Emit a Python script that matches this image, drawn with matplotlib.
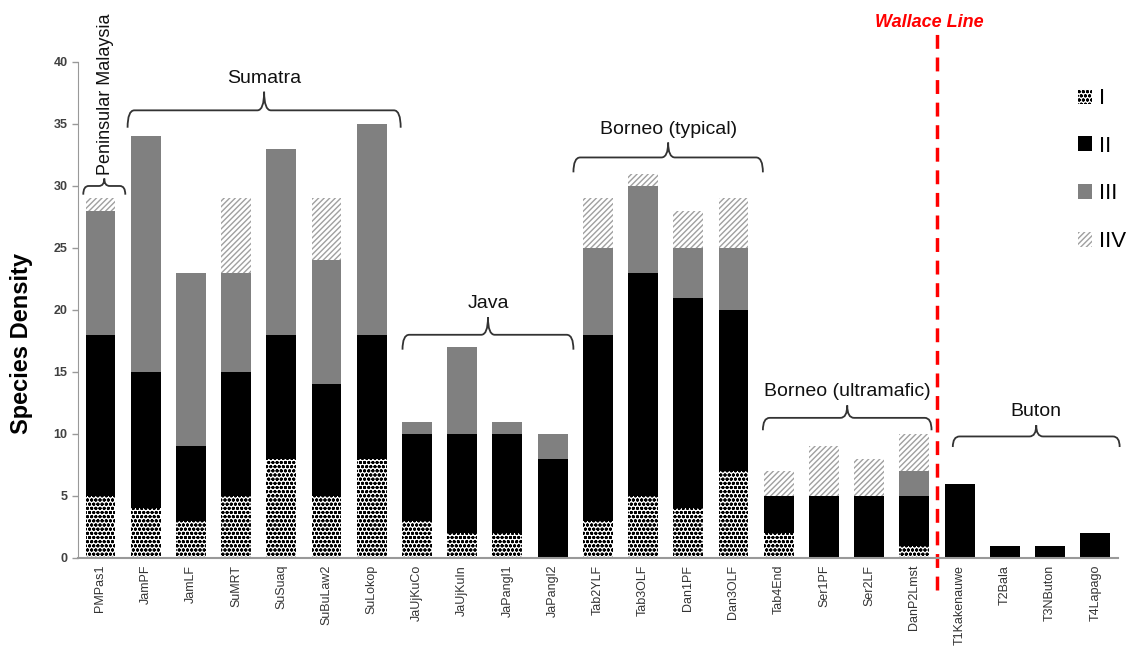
import matplotlib
matplotlib.use("Agg")
import matplotlib.pyplot as plt
from matplotlib.path import Path
from matplotlib.patches import PathPatch, Patch
import numpy as np

plt.rcParams['font.family'] = ['Liberation Sans', 'DejaVu Sans']
plt.rcParams['hatch.linewidth'] = 1.0

sites = ["PMPas1", "JamPF", "JamLF", "SuMRT", "SuSuaq", "SuBuLaw2", "SuLokop",
         "JaUjKuCo", "JaUjKuIn", "JaPangl1", "JaPangl2",
         "Tab2YLF", "Tab3OLF", "Dan1PF", "Dan3OLF",
         "Tab4End", "Ser1PF", "Ser2LF", "DanP2Lmst",
         "T1Kakenauwe", "T2Bala", "T3NButon", "T4Lapago"]
cls_I   = [5, 4, 3, 5, 8, 5, 8, 3, 2, 2, 0, 3, 5, 4, 7, 2, 0, 0, 1, 0, 0, 0, 0]
cls_II  = [13, 11, 6, 10, 10, 9, 10, 7, 8, 8, 8, 15, 18, 17, 13, 3, 5, 5, 4, 6, 1, 1, 2]
cls_III = [10, 19, 14, 8, 15, 10, 17, 1, 7, 1, 2, 7, 7, 4, 5, 0, 0, 0, 2, 0, 0, 0, 0]
cls_IV  = [1, 0, 0, 6, 0, 5, 0, 0, 0, 0, 0, 4, 1, 3, 4, 2, 4, 3, 3, 0, 0, 0, 0]
legend_labels = ["I", "II", "III", "IIV"]

# groups: (label, first index, last index)
groups = [("Peninsular Malaysia", 0, 0), ("Sumatra", 1, 6), ("Java", 7, 10),
          ("Borneo (typical)", 11, 14), ("Borneo (ultramafic)", 15, 18),
          ("Buton", 19, 22)]

fig = plt.figure(figsize=(11.28, 6.47), dpi=100)
ax = fig.add_axes([0.069, 0.1376, 0.922, 0.7666])

x = np.arange(len(sites))
w = 0.66
I = np.array(cls_I); II = np.array(cls_II); III = np.array(cls_III); IV = np.array(cls_IV)

ax.bar(x, I, w, color='white', edgecolor='black', hatch='oooo', linewidth=0)
ax.bar(x, II, w, bottom=I, color='black', linewidth=0)
ax.bar(x, III, w, bottom=I + II, color='#808080', linewidth=0)
ax.bar(x, IV, w, bottom=I + II + III, color='white', edgecolor='#a0a0a0',
       hatch='//////', linewidth=0)

ax.set_xlim(-0.5, 22.5)
ax.set_ylim(0, 40)
ax.set_yticks(np.arange(0, 41, 5))
ax.set_xticks(x)
ax.set_xticklabels(sites, rotation=90, fontsize=9, color='#333333')
ax.tick_params(axis='x', length=0, pad=5)
ax.tick_params(axis='y', labelsize=9, colors='#404040', length=4, width=1, direction='out')
for lab in ax.get_yticklabels():
    lab.set_fontweight('bold')
for s in ['top', 'right']:
    ax.spines[s].set_visible(False)
ax.spines['left'].set_color('#999999')
ax.spines['bottom'].set_color('#999999')
ax.spines['bottom'].set_linewidth(1.5)
ax.tick_params(axis='y', color='#999999')

ax.set_ylabel("Species Density", fontsize=17, fontweight='bold')
ax.yaxis.set_label_coords(-0.043, 0.433)


def brace(x0, x1, yend, yline, ytip, r=0.15):
    xm = (x0 + x1) / 2
    verts = [(x0, yend), (x0, yline), (x0 + r, yline),
             (xm - r, yline), (xm, yline), (xm, ytip),
             (xm, yline), (xm + r, yline),
             (x1 - r, yline), (x1, yline), (x1, yend)]
    codes = [Path.MOVETO, Path.CURVE3, Path.CURVE3,
             Path.LINETO, Path.CURVE3, Path.CURVE3,
             Path.CURVE3, Path.CURVE3,
             Path.LINETO, Path.CURVE3, Path.CURVE3]
    p = PathPatch(Path(verts, codes), fill=False, edgecolor='#333333', lw=1.3,
                  clip_on=False)
    ax.add_patch(p)

brace_geom = [(-0.38, 0.55, 29.3, 30.0, 30.6),
              (0.6, 6.64, 34.7, 36.1, 37.6),
              (6.68, 10.46, 16.8, 18.0, 19.4),
              (10.46, 14.65, 31.1, 32.3, 33.5),
              (14.65, 18.38, 10.3, 11.3, 12.3),
              (18.85, 22.54, 8.95, 9.8, 10.7)]
for (name, a, b), (x0, x1, ye, yl, yt) in zip(groups, brace_geom):
    brace(x0, x1, ye, yl, yt, r=0.12 if a == b else 0.15)
    xm = (x0 + x1) / 2
    if a == b:
        ax.text(xm + 0.02, yt + 0.3, name, rotation=90, ha='center', va='bottom',
                fontsize=13, color='#111111', clip_on=False)
    else:
        ax.text(xm, yt + 0.4, name, ha='center', va='bottom', fontsize=14,
                color='#111111', clip_on=False)

# Wallace line
ax.plot([18.5, 18.5], [-2.6, 42.6], color='#ff0000', lw=2.5, ls=(0, (4, 2.5)),
        clip_on=False)
ax.text(18.34, 43.2, "Wallace Line", color='#ff0000', fontsize=13,
        fontweight='bold', fontstyle='italic', ha='center', va='center',
        clip_on=False)

handles = [Patch(facecolor='white', edgecolor='black', hatch='oooo', linewidth=0),
           Patch(facecolor='black', linewidth=0),
           Patch(facecolor='#808080', linewidth=0),
           Patch(facecolor='white', edgecolor='#a0a0a0', hatch='//////', linewidth=0)]
fig.legend(handles, legend_labels, loc='upper left',
           bbox_to_anchor=(1078 / 1128, 1 - 88 / 647), frameon=False,
           borderpad=0, borderaxespad=0,
           fontsize=16, handlelength=0.65, handleheight=0.65, labelspacing=1.2,
           handletextpad=0.3)

fig.savefig("out.png", dpi=100)
